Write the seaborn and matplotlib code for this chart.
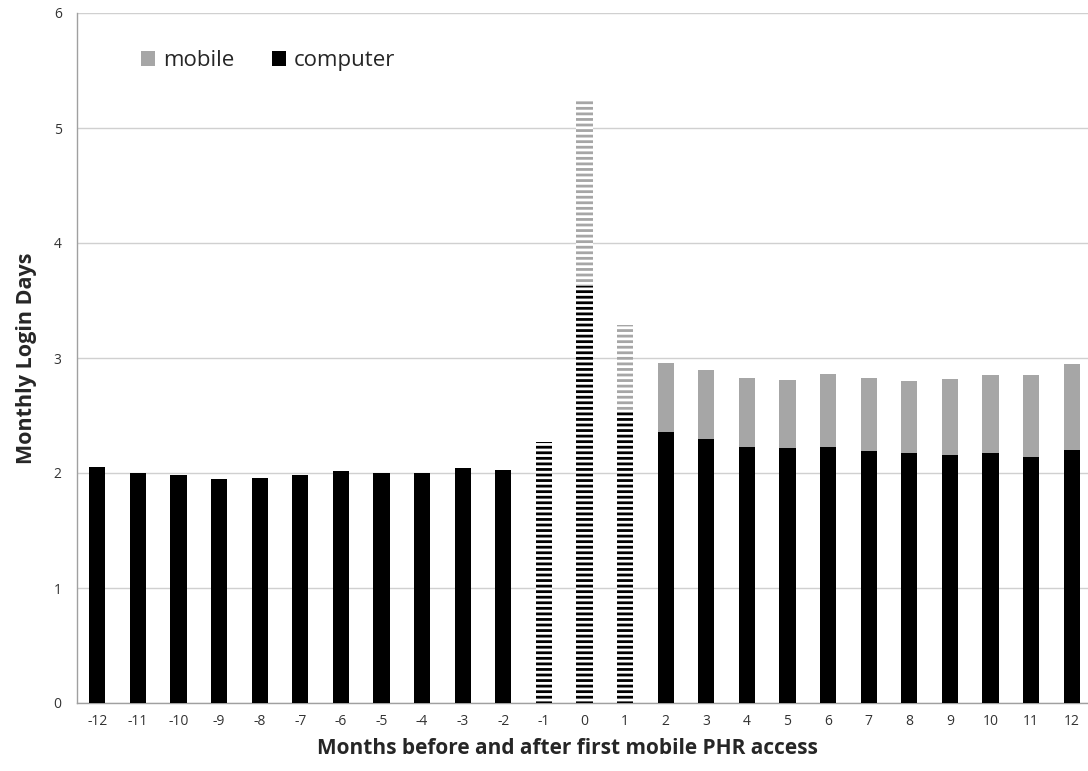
import numpy as np
import pandas as pd
import matplotlib
matplotlib.use("Agg")
import matplotlib.pyplot as plt
import seaborn as sns
from matplotlib.patches import Patch

months = list(range(-12, 13))
computer = [2.05, 2.00, 1.98, 1.95, 1.96, 1.98, 2.02, 2.00, 2.00, 2.04, 2.03, 2.27,
            3.63, 2.55, 2.36, 2.30, 2.23, 2.22, 2.23, 2.19, 2.17, 2.16, 2.17, 2.14, 2.20]
mobile = [0, 0, 0, 0, 0, 0, 0, 0, 0, 0, 0, 0,
          1.62, 0.74, 0.60, 0.60, 0.60, 0.59, 0.63, 0.64, 0.63, 0.66, 0.68, 0.71, 0.75]
hatched_months = [-1, 0, 1]

df = pd.DataFrame({"month": [str(m) for m in months], "computer": computer, "mobile": mobile})
df["total"] = df["computer"] + df["mobile"]
order = df["month"].tolist()

sns.set_style("white")
plt.rcParams["font.family"] = ["Open Sans", "DejaVu Sans"]
plt.rcParams["hatch.linewidth"] = 2.0

fig = plt.figure(figsize=(10.88, 7.71), dpi=100)
ax = fig.add_axes([77 / 1088, 68 / 771, 1015 / 1088, 690 / 771])

gray = "#a6a6a6"
# total first (grey), computer drawn over it (black) -> stacked look
sns.barplot(data=df, x="month", y="total", order=order, color=gray, width=0.4,
            saturation=1, linewidth=0, ax=ax, zorder=3)
sns.barplot(data=df, x="month", y="computer", order=order, color="black", width=0.4,
            saturation=1, linewidth=0, ax=ax, zorder=3)

n = len(months)
patches = ax.patches
for i, m in enumerate(months):
    if m in hatched_months:
        top = patches[i]
        bot = patches[n + i]
        top.set_facecolor("white")
        top.set_edgecolor(gray)
        top.set_hatch("---")
        top.set_linewidth(0)
        bot.set_facecolor("white")
        bot.set_edgecolor("black")
        bot.set_hatch("---")
        bot.set_linewidth(0)

ax.set_ylim(0, 6)
ax.set_xlim(-0.5, n - 0.5)
ax.set_yticks(range(0, 7))
ax.yaxis.grid(True, color="#d0d0d0", linewidth=1, zorder=0)
ax.set_axisbelow(True)

for s in ["top", "right"]:
    ax.spines[s].set_visible(False)
for s in ["left", "bottom"]:
    ax.spines[s].set_color("#a0a0a0")
    ax.spines[s].set_linewidth(1)

ax.set_xticks(np.arange(-0.5, n, 1.0), minor=True)
ax.tick_params(axis="x", which="major", length=0, labelsize=10, pad=8, labelcolor="#333333")
ax.tick_params(axis="x", which="minor", length=5, color="#a0a0a0", direction="out")
ax.tick_params(axis="y", which="major", length=5, color="#a0a0a0", labelsize=10,
               pad=6, labelcolor="#333333")

ax.set_xlabel("Months before and after first mobile PHR access", fontsize=15,
              fontweight="bold")
ax.xaxis.set_label_coords(0.483, -0.05)
ax.set_ylabel("Monthly Login Days", fontsize=15.5, fontweight="bold", labelpad=12)

handles = [Patch(facecolor=gray, edgecolor="none", label="mobile"),
           Patch(facecolor="black", edgecolor="none", label="computer")]
ax.legend(handles=handles, loc="upper left", bbox_to_anchor=(0.043, 0.975), ncol=2,
          frameon=False, fontsize=16, handlelength=0.65, handleheight=0.65,
          handletextpad=0.35, columnspacing=1.7)

fig.savefig("out.png", dpi=100)
